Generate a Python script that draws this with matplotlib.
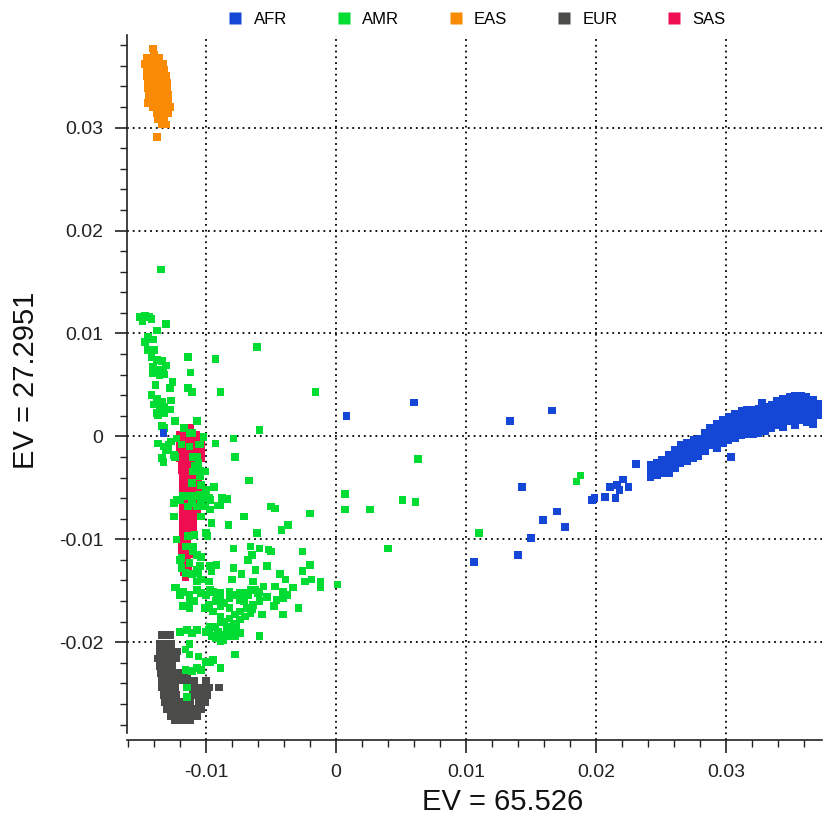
import matplotlib as mpl

mpl.use("Agg")
import matplotlib.pyplot as plt
import numpy as np
from matplotlib.lines import Line2D
from matplotlib.ticker import MultipleLocator, FuncFormatter

# PCA coordinates (EV1, EV2)
AFR = [
    # scattered admixed samples
    (0.0008, 0.0020), (0.0060, 0.0033), (0.0134, 0.0015), (0.0166, 0.0025),
    (0.0143, -0.0049), (0.0170, -0.0073), (0.0159, -0.0081), (0.0176, -0.0088),
    (0.0150, -0.0099), (0.0140, -0.0115), (0.0106, -0.0122), (0.0197, -0.0062),
    (0.0199, -0.0060), (0.0207, -0.0059), (0.0215, -0.0060), (0.0211, -0.0049),
    (0.0216, -0.0047), (0.0218, -0.0052), (0.0221, -0.0042), (0.0225, -0.0049),
    (0.0231, -0.0027), (0.0304, -0.0020), (0.0328, 0.0033), (0.0367, 0.0012),
    (-0.0133, 0.0003),
    # main cluster
    (0.0242, -0.0028), (0.0242, -0.0034), (0.0242, -0.0040),
    (0.0247, -0.0026), (0.0247, -0.0032), (0.0247, -0.0038),
    (0.0251, -0.0023), (0.0251, -0.0030), (0.0251, -0.0036),
    (0.0256, -0.0018), (0.0256, -0.0024), (0.0256, -0.0031), (0.0256, -0.0036),
    (0.0261, -0.0013), (0.0261, -0.0019), (0.0261, -0.0025), (0.0261, -0.0031),
    (0.0265, -0.0008), (0.0265, -0.0014), (0.0265, -0.0020), (0.0265, -0.0026),
    (0.0270, -0.0006), (0.0270, -0.0012), (0.0270, -0.0018), (0.0270, -0.0024),
    (0.0275, -0.0003), (0.0275, -0.0009), (0.0275, -0.0015), (0.0275, -0.0021),
    (0.0279, -0.0002), (0.0279, -0.0007), (0.0279, -0.0013), (0.0279, -0.0019),
    (0.0284, 0.0003), (0.0284, -0.0002), (0.0284, -0.0008), (0.0284, -0.0014),
    (0.0288, 0.0008), (0.0288, 0.0002), (0.0288, -0.0003), (0.0288, -0.0009),
    (0.0293, 0.0012), (0.0293, 0.0006), (0.0293, 0.0000), (0.0293, -0.0005), (0.0293, -0.0011),
    (0.0298, 0.0016), (0.0298, 0.0010), (0.0298, 0.0004), (0.0298, -0.0002), (0.0298, -0.0007),
    (0.0302, 0.0019), (0.0302, 0.0013), (0.0302, 0.0007), (0.0302, 0.0002), (0.0302, -0.0004),
    (0.0307, 0.0022), (0.0307, 0.0016), (0.0307, 0.0010), (0.0307, 0.0004), (0.0307, -0.0002),
    (0.0312, 0.0025), (0.0312, 0.0019), (0.0312, 0.0013), (0.0312, 0.0007), (0.0312, 0.0001),
    (0.0316, 0.0026), (0.0316, 0.0020), (0.0316, 0.0014), (0.0316, 0.0008), (0.0316, 0.0002),
    (0.0321, 0.0026), (0.0321, 0.0020), (0.0321, 0.0014), (0.0321, 0.0008), (0.0321, 0.0002),
    (0.0325, 0.0027), (0.0325, 0.0021), (0.0325, 0.0015), (0.0325, 0.0009), (0.0325, 0.0003),
    (0.0330, 0.0029), (0.0330, 0.0023), (0.0330, 0.0017), (0.0330, 0.0011), (0.0330, 0.0005),
    (0.0335, 0.0031), (0.0335, 0.0026), (0.0335, 0.0020), (0.0335, 0.0014), (0.0335, 0.0008),
    (0.0339, 0.0035), (0.0339, 0.0029), (0.0339, 0.0023), (0.0339, 0.0017), (0.0339, 0.0011),
    (0.0344, 0.0037), (0.0344, 0.0032), (0.0344, 0.0026), (0.0344, 0.0020), (0.0344, 0.0014),
    (0.0344, 0.0009),
    (0.0349, 0.0038), (0.0349, 0.0033), (0.0349, 0.0027), (0.0349, 0.0021), (0.0349, 0.0015),
    (0.0353, 0.0039), (0.0353, 0.0034), (0.0353, 0.0028), (0.0353, 0.0022), (0.0353, 0.0016),
    (0.0353, 0.0011),
    (0.0358, 0.0039), (0.0358, 0.0034), (0.0358, 0.0028), (0.0358, 0.0022), (0.0358, 0.0016),
    (0.0362, 0.0038), (0.0362, 0.0032), (0.0362, 0.0026), (0.0362, 0.0020), (0.0362, 0.0014),
    (0.0367, 0.0036), (0.0367, 0.0031), (0.0367, 0.0025), (0.0367, 0.0019),
    (0.0371, 0.0032), (0.0371, 0.0027), (0.0371, 0.0021),
]

AMR = [
    (-0.0135, 0.0162), (-0.0151, 0.0116), (-0.0147, 0.0117), (-0.0144, 0.0116),
    (-0.0149, 0.0112), (-0.0142, 0.0114), (-0.0131, 0.0109), (-0.0138, 0.0103),
    (-0.0145, 0.0097), (-0.0147, 0.0092), (-0.0141, 0.0094), (-0.0061, 0.0087),
    (-0.0145, 0.0084), (-0.0140, 0.0084), (-0.0114, 0.0077), (-0.0093, 0.0075),
    (-0.0142, 0.0077), (-0.0138, 0.0074), (-0.0134, 0.0073), (-0.0131, 0.0069),
    (-0.0141, 0.0068), (-0.0137, 0.0065), (-0.0133, 0.0063), (-0.0141, 0.0061),
    (-0.0136, 0.0059), (-0.0132, 0.0060), (-0.0112, 0.0062), (-0.0126, 0.0053),
    (-0.0128, 0.0047), (-0.0139, 0.0050), (-0.0114, 0.0047), (-0.0111, 0.0043),
    (-0.0089, 0.0043), (-0.0016, 0.0043), (-0.0142, 0.0040), (-0.0138, 0.0037),
    (-0.0134, 0.0034), (-0.0140, 0.0031), (-0.0136, 0.0026), (-0.0132, 0.0029),
    (-0.0128, 0.0026), (-0.0127, 0.0035), (-0.0132, 0.0023), (-0.0137, 0.0021),
    (-0.0124, 0.0015), (-0.0107, 0.0015), (-0.0134, 0.0010), (-0.0132, 0.0008),
    (-0.0059, 0.0006), (-0.0113, 0.0003), (-0.0102, -0.0001), (-0.0079, -0.0002),
    (-0.0137, -0.0007), (-0.0133, -0.0010), (-0.0129, -0.0008), (-0.0127, -0.0005),
    (-0.0131, -0.0013), (-0.0134, -0.0021), (-0.0133, -0.0025), (-0.0093, -0.0007),
    (-0.0078, -0.0020), (-0.0124, -0.0020), (-0.0067, -0.0043), (-0.0094, -0.0049),
    (0.0007, -0.0056), (-0.0111, 0.0003), (-0.0106, -0.0008), (-0.0107, -0.0020),
    (-0.0109, -0.0029), (-0.0105, -0.0039), (-0.0111, -0.0045), (-0.0104, -0.0047),
    (-0.0102, -0.0058), (-0.0118, -0.0058), (-0.0098, -0.0060), (-0.0088, -0.0060),
    (-0.0084, -0.0061), (-0.0138, 0.0032), (-0.0138, 0.0023), (-0.0117, 0.0008),
    (-0.0129, -0.0011), (-0.0125, -0.0018), (-0.0123, -0.0002), (-0.0119, -0.0008),
    (-0.0113, -0.0010), (-0.0105, -0.0008), (-0.0102, 0.0000), (-0.0110, -0.0020),
    (-0.0106, -0.0026), (-0.0110, -0.0034), (-0.0105, -0.0033), (-0.0101, -0.0034),
    (-0.0100, -0.0052), (-0.0105, -0.0057), (-0.0110, -0.0058), (-0.0115, -0.0058),
    (-0.0111, -0.0065), (-0.0107, -0.0068), (-0.0104, -0.0062), (-0.0097, -0.0062),
    (-0.0097, -0.0071), (-0.0125, -0.0065), (-0.0120, -0.0062), (-0.0091, -0.0067),
    (-0.0125, -0.0078), (-0.0114, -0.0068), (-0.0071, -0.0078), (-0.0083, -0.0086),
    (-0.0096, -0.0084), (-0.0104, -0.0078), (-0.0114, -0.0097), (-0.0109, -0.0096),
    (-0.0123, -0.0100), (-0.0100, -0.0094), (-0.0061, -0.0094), (-0.0116, -0.0107),
    (-0.0110, -0.0107), (-0.0107, -0.0115), (-0.0104, -0.0117), (-0.0079, -0.0109),
    (-0.0066, -0.0107), (-0.0059, -0.0109), (-0.0065, -0.0115), (-0.0120, -0.0120),
    (-0.0119, -0.0128), (-0.0116, -0.0133), (-0.0111, -0.0134), (-0.0105, -0.0126),
    (-0.0097, -0.0126), (-0.0106, -0.0133), (-0.0104, -0.0139), (-0.0092, -0.0125),
    (-0.0096, -0.0131), (-0.0098, -0.0141), (-0.0079, -0.0128), (-0.0073, -0.0134),
    (-0.0080, -0.0139), (-0.0064, -0.0141), (-0.0053, -0.0126), (-0.0123, -0.0147),
    (-0.0118, -0.0151), (-0.0113, -0.0154), (-0.0107, -0.0149), (-0.0095, -0.0151),
    (-0.0089, -0.0152), (-0.0082, -0.0151), (-0.0074, -0.0152), (-0.0068, -0.0154),
    (-0.0060, -0.0152), (-0.0101, -0.0068), (-0.0123, -0.0062), (-0.0089, -0.0067),
    (-0.0050, -0.0068), (-0.0047, -0.0070), (0.0007, -0.0071), (0.0026, -0.0071),
    (-0.0020, -0.0075), (-0.0099, -0.0097), (-0.0042, -0.0091), (-0.0037, -0.0086),
    (-0.0068, -0.0120), (-0.0052, -0.0110), (-0.0050, -0.0112), (-0.0026, -0.0112),
    (-0.0110, -0.0112), (-0.0113, -0.0123), (-0.0119, -0.0118), (-0.0062, -0.0130),
    (-0.0020, -0.0125), (-0.0026, -0.0131), (-0.0024, -0.0141), (-0.0019, -0.0139),
    (-0.0012, -0.0141), (-0.0012, -0.0147), (0.0001, -0.0144), (-0.0043, -0.0134),
    (-0.0039, -0.0139), (-0.0033, -0.0147), (-0.0107, -0.0130), (-0.0107, -0.0141),
    (-0.0124, -0.0147), (-0.0120, -0.0154), (-0.0113, -0.0159), (-0.0113, -0.0167),
    (-0.0109, -0.0160), (-0.0104, -0.0152), (-0.0100, -0.0154), (-0.0097, -0.0149),
    (-0.0092, -0.0152), (-0.0089, -0.0157), (-0.0093, -0.0160), (-0.0098, -0.0164),
    (-0.0095, -0.0170), (-0.0089, -0.0165), (-0.0086, -0.0162), (-0.0082, -0.0157),
    (-0.0078, -0.0154), (-0.0074, -0.0159), (-0.0070, -0.0152), (-0.0066, -0.0149),
    (-0.0062, -0.0149), (-0.0059, -0.0151), (-0.0056, -0.0146), (-0.0053, -0.0156),
    (-0.0059, -0.0160), (-0.0064, -0.0164), (-0.0069, -0.0167), (-0.0074, -0.0170),
    (-0.0078, -0.0173), (-0.0082, -0.0177), (-0.0086, -0.0180), (-0.0089, -0.0181),
    (-0.0093, -0.0185), (-0.0091, -0.0190), (-0.0087, -0.0193), (-0.0083, -0.0191),
    (-0.0079, -0.0188), (-0.0077, -0.0185), (-0.0074, -0.0178), (-0.0070, -0.0175),
    (-0.0066, -0.0172), (-0.0078, -0.0194), (-0.0089, -0.0199), (-0.0096, -0.0194),
    (-0.0100, -0.0190), (-0.0097, -0.0185), (-0.0084, -0.0185), (-0.0047, -0.0146),
    (-0.0041, -0.0151), (-0.0046, -0.0159), (-0.0041, -0.0157), (-0.0038, -0.0154),
    (-0.0048, -0.0165), (-0.0041, -0.0173), (-0.0029, -0.0167), (-0.0057, -0.0173),
    (-0.0059, -0.0194), (-0.0120, -0.0190), (-0.0115, -0.0188), (-0.0111, -0.0191),
    (-0.0107, -0.0188), (-0.0116, -0.0207), (-0.0113, -0.0202), (-0.0106, -0.0214),
    (-0.0100, -0.0219), (-0.0095, -0.0217), (-0.0107, -0.0225), (-0.0111, -0.0228),
    (-0.0116, -0.0227), (-0.0078, -0.0212), (-0.0115, -0.0244), (-0.0115, -0.0253),
    (-0.0113, -0.0212), (-0.0097, -0.0219), (-0.0104, -0.0227), (-0.0089, -0.0225),
    (-0.0098, -0.0188), (-0.0093, -0.0196), (-0.0087, -0.0198), (-0.0082, -0.0194),
    (-0.0074, -0.0191), (-0.0079, -0.0182), (-0.0065, -0.0168), (-0.0071, -0.0160),
    (-0.0082, -0.0167), (-0.0089, -0.0175), (-0.0101, -0.0167), (-0.0118, -0.0165),
    (0.0063, -0.0022), (0.0051, -0.0062), (0.0061, -0.0064), (0.0040, -0.0109),
    (0.0110, -0.0094), (0.0188, -0.0038), (0.0185, -0.0044),
]

EAS = [
    (-0.0141, 0.0377), (-0.0140, 0.0371),
    (-0.0146, 0.0368), (-0.0141, 0.0368), (-0.0136, 0.0368),
    (-0.0147, 0.0362), (-0.0142, 0.0362), (-0.0137, 0.0362), (-0.0133, 0.0362),
    (-0.0146, 0.0356), (-0.0141, 0.0356), (-0.0136, 0.0356), (-0.0132, 0.0356),
    (-0.0146, 0.0350), (-0.0141, 0.0350), (-0.0136, 0.0350), (-0.0131, 0.0350),
    (-0.0145, 0.0344), (-0.0140, 0.0344), (-0.0135, 0.0344), (-0.0130, 0.0344),
    (-0.0145, 0.0338), (-0.0140, 0.0338), (-0.0135, 0.0338), (-0.0130, 0.0338),
    (-0.0144, 0.0332), (-0.0139, 0.0332), (-0.0134, 0.0332), (-0.0129, 0.0332),
    (-0.0144, 0.0326), (-0.0139, 0.0326), (-0.0134, 0.0326), (-0.0129, 0.0326),
    (-0.0145, 0.0324), (-0.0141, 0.0320), (-0.0136, 0.0320), (-0.0131, 0.0320),
    (-0.0128, 0.0320), (-0.0138, 0.0314), (-0.0133, 0.0314), (-0.0129, 0.0314),
    (-0.0137, 0.0308), (-0.0132, 0.0308), (-0.0134, 0.0303), (-0.0131, 0.0303),
    (-0.0138, 0.0291),
]

EUR = [
    (-0.0134, -0.0193), (-0.0128, -0.0193),
    (-0.0136, -0.0202), (-0.0132, -0.0202), (-0.0127, -0.0202),
    (-0.0136, -0.0209), (-0.0132, -0.0209), (-0.0127, -0.0209), (-0.0122, -0.0209),
    (-0.0137, -0.0216), (-0.0132, -0.0216), (-0.0127, -0.0216), (-0.0123, -0.0216),
    (-0.0136, -0.0223), (-0.0131, -0.0223), (-0.0126, -0.0223),
    (-0.0135, -0.0230), (-0.0130, -0.0230), (-0.0125, -0.0230), (-0.0120, -0.0230),
    (-0.0115, -0.0230),
    (-0.0134, -0.0237), (-0.0129, -0.0237), (-0.0124, -0.0237), (-0.0119, -0.0237),
    (-0.0114, -0.0237), (-0.0109, -0.0237), (-0.0100, -0.0237),
    (-0.0134, -0.0244), (-0.0129, -0.0244), (-0.0124, -0.0244), (-0.0110, -0.0244),
    (-0.0104, -0.0244), (-0.0098, -0.0244), (-0.0090, -0.0244),
    (-0.0133, -0.0251), (-0.0128, -0.0251), (-0.0123, -0.0251), (-0.0110, -0.0251),
    (-0.0105, -0.0251), (-0.0099, -0.0251),
    (-0.0132, -0.0258), (-0.0127, -0.0258), (-0.0122, -0.0258), (-0.0117, -0.0258),
    (-0.0112, -0.0258), (-0.0106, -0.0258), (-0.0101, -0.0258),
    (-0.0130, -0.0265), (-0.0125, -0.0265), (-0.0120, -0.0265), (-0.0115, -0.0265),
    (-0.0110, -0.0265), (-0.0104, -0.0265),
    (-0.0127, -0.0272), (-0.0122, -0.0272), (-0.0117, -0.0272), (-0.0112, -0.0272),
    (-0.0107, -0.0272),
    (-0.0124, -0.0276), (-0.0118, -0.0276), (-0.0112, -0.0276),
]

SAS = [
    (-0.0116, 0.0008), (-0.0112, 0.0008),
    (-0.0120, 0.0002), (-0.0116, 0.0002), (-0.0112, 0.0002), (-0.0108, 0.0002),
    (-0.0120, -0.0003), (-0.0116, -0.0003), (-0.0112, -0.0003), (-0.0108, -0.0003), (-0.0104, -0.0003),
    (-0.0120, -0.0009), (-0.0116, -0.0009), (-0.0112, -0.0009), (-0.0108, -0.0009), (-0.0104, -0.0009),
    (-0.0120, -0.0015), (-0.0116, -0.0015), (-0.0112, -0.0015), (-0.0108, -0.0015), (-0.0104, -0.0015),
    (-0.0120, -0.0021), (-0.0116, -0.0021), (-0.0112, -0.0021), (-0.0108, -0.0021), (-0.0104, -0.0021),
    (-0.0119, -0.0027), (-0.0115, -0.0027), (-0.0111, -0.0027), (-0.0107, -0.0027),
    (-0.0119, -0.0033), (-0.0115, -0.0033), (-0.0111, -0.0033), (-0.0107, -0.0033),
    (-0.0118, -0.0038), (-0.0114, -0.0038), (-0.0110, -0.0038), (-0.0106, -0.0038),
    (-0.0118, -0.0044), (-0.0114, -0.0044), (-0.0110, -0.0044), (-0.0106, -0.0044),
    (-0.0118, -0.0050), (-0.0114, -0.0050), (-0.0110, -0.0050), (-0.0106, -0.0050),
    (-0.0118, -0.0056), (-0.0114, -0.0056), (-0.0110, -0.0056), (-0.0106, -0.0056),
    (-0.0118, -0.0062), (-0.0114, -0.0062), (-0.0110, -0.0062), (-0.0106, -0.0062),
    (-0.0118, -0.0068), (-0.0114, -0.0068), (-0.0110, -0.0068), (-0.0106, -0.0068),
    (-0.0118, -0.0073), (-0.0114, -0.0073), (-0.0110, -0.0073), (-0.0107, -0.0073),
    (-0.0118, -0.0079), (-0.0114, -0.0079), (-0.0110, -0.0079),
    (-0.0118, -0.0085), (-0.0114, -0.0085), (-0.0110, -0.0085),
    (-0.0118, -0.0091), (-0.0114, -0.0091), (-0.0110, -0.0091),
    (-0.0118, -0.0097), (-0.0114, -0.0097),
    (-0.0119, -0.0102), (-0.0115, -0.0102),
    (-0.0119, -0.0108), (-0.0115, -0.0108),
    (-0.0119, -0.0114), (-0.0115, -0.0114), (-0.0111, -0.0114),
    (-0.0119, -0.0120), (-0.0115, -0.0120),
    (-0.0118, -0.0126), (-0.0114, -0.0126),
    (-0.0117, -0.0132), (-0.0116, -0.0137),
]

GROUPS = ["AFR", "AMR", "EAS", "EUR", "SAS"]
COLORS = {"AFR": "#1447d6", "AMR": "#00dc32", "EAS": "#f88a04",
          "EUR": "#4b4b49", "SAS": "#ef0e52"}
DATA = {"AFR": AFR, "AMR": AMR, "EAS": EAS, "EUR": EUR, "SAS": SAS}
DRAW_ORDER = ["EUR", "SAS", "AMR", "AFR", "EAS"]

X_LABEL = "EV = 65.526"
Y_LABEL = "EV = 27.2951"

FONT = ["Liberation Sans", "DejaVu Sans"]


def tick_fmt(v, _pos):
    if abs(v) < 1e-9:
        return "0"
    return f"{v:.2f}"


def main():
    plt.rcParams["font.family"] = FONT
    fig = plt.figure(figsize=(8.26, 8.16), dpi=100)
    W, H = 826, 816
    ax = fig.add_axes([127 / W, (H - 740) / H, (822 - 127) / W, (740 - 35) / H])

    for g in DRAW_ORDER:
        pts = np.array(DATA[g])
        ax.scatter(pts[:, 0], pts[:, 1], s=30, marker="s", color=COLORS[g],
                   edgecolors="none", zorder=3)

    ax.set_xlim(-0.0161, 0.0374)
    ax.set_ylim(-0.0295, 0.0390)

    for side in ("top", "right"):
        ax.spines[side].set_visible(False)
    ax.spines["left"].set_bounds(-0.0288, 0.0390)
    for side in ("left", "bottom"):
        ax.spines[side].set_linewidth(1.2)
        ax.spines[side].set_color("#222222")

    ax.xaxis.set_major_locator(MultipleLocator(0.01))
    ax.xaxis.set_minor_locator(MultipleLocator(0.002))
    ax.yaxis.set_major_locator(MultipleLocator(0.01))
    ax.yaxis.set_minor_locator(MultipleLocator(0.002))
    ax.xaxis.set_major_formatter(FuncFormatter(tick_fmt))
    ax.yaxis.set_major_formatter(FuncFormatter(tick_fmt))

    ax.tick_params(which="major", direction="out", length=9, width=1.2,
                   color="#222222", labelsize=14, labelcolor="#222222", pad=8)
    ax.tick_params(which="minor", direction="out", length=5, width=1.0,
                   color="#222222")

    ax.grid(True, which="major", color="black", linestyle=(0, (1, 2.2)),
            linewidth=1.3, zorder=1)
    ax.set_axisbelow(True)

    ax.set_xlabel(X_LABEL, fontsize=21, color="#111111")
    ax.set_ylabel(Y_LABEL, fontsize=21, color="#111111")
    ax.xaxis.set_label_coords(0.54, -0.068)
    ax.yaxis.set_label_coords(-0.125, 0.51)

    handles = [Line2D([], [], linestyle="none", marker="s", markersize=8,
                      markerfacecolor=COLORS[g], markeredgecolor="none")
               for g in GROUPS]
    fig.legend(handles, GROUPS, loc="center", bbox_to_anchor=(477 / W, 1 - 19.5 / H),
               ncol=5, frameon=False, fontsize=12, handlelength=0.8,
               handletextpad=0.7, columnspacing=3.0, borderpad=0)

    fig.savefig("out.png", dpi=100)
    plt.close(fig)


if __name__ == "__main__":
    main()
